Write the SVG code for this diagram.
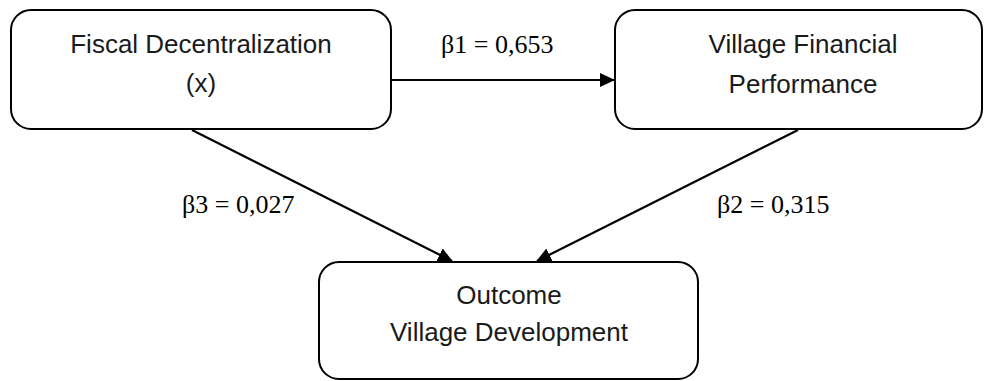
<svg xmlns="http://www.w3.org/2000/svg" width="984" height="381" viewBox="0 0 984 381">
<style>
.box{fill:#ffffff;stroke:#000000;stroke-width:2}
.nt{font-family:"Liberation Sans",Arial,sans-serif;font-size:26px;fill:#1a1a1a;text-anchor:middle}
.lb{font-family:"Liberation Serif","Times New Roman",serif;font-size:26px;fill:#000000}
.ed{stroke:#000000;stroke-width:2.2;fill:none;marker-end:url(#ah)}
</style>
<defs>
<marker id="ah" markerUnits="userSpaceOnUse" markerWidth="15" markerHeight="14" refX="14" refY="7" orient="auto">
<path d="M0,0 L15,7 L0,14 Z" fill="#000000"/>
</marker>
</defs>
<rect width="984" height="381" fill="#ffffff"/>
<g id="connectors">
<line class="ed" x1="391" y1="80" x2="614" y2="80"/>
<line class="ed" x1="192" y1="130" x2="452" y2="261"/>
<line class="ed" x1="798" y1="130" x2="537" y2="261"/>
</g>
<g id="node-fiscal">
<rect class="box" x="11" y="10" width="380" height="119" rx="20"/>
<text class="nt" x="201" y="53">Fiscal Decentralization</text>
<text class="nt" x="201" y="92">(x)</text>
</g>
<g id="node-performance">
<rect class="box" x="615" y="10" width="367" height="119" rx="20"/>
<text class="nt" x="803" y="53">Village Financial</text>
<text class="nt" x="803" y="93">Performance</text>
</g>
<g id="node-outcome">
<rect class="box" x="319" y="262" width="379" height="117" rx="20"/>
<text class="nt" x="509" y="304">Outcome</text>
<text class="nt" x="509" y="341">Village Development</text>
</g>
<g id="labels">
<text class="lb" x="441" y="53">β1 = 0,653</text>
<text class="lb" x="182" y="213">β3 = 0,027</text>
<text class="lb" x="717" y="213">β2 = 0,315</text>
</g>
</svg>
